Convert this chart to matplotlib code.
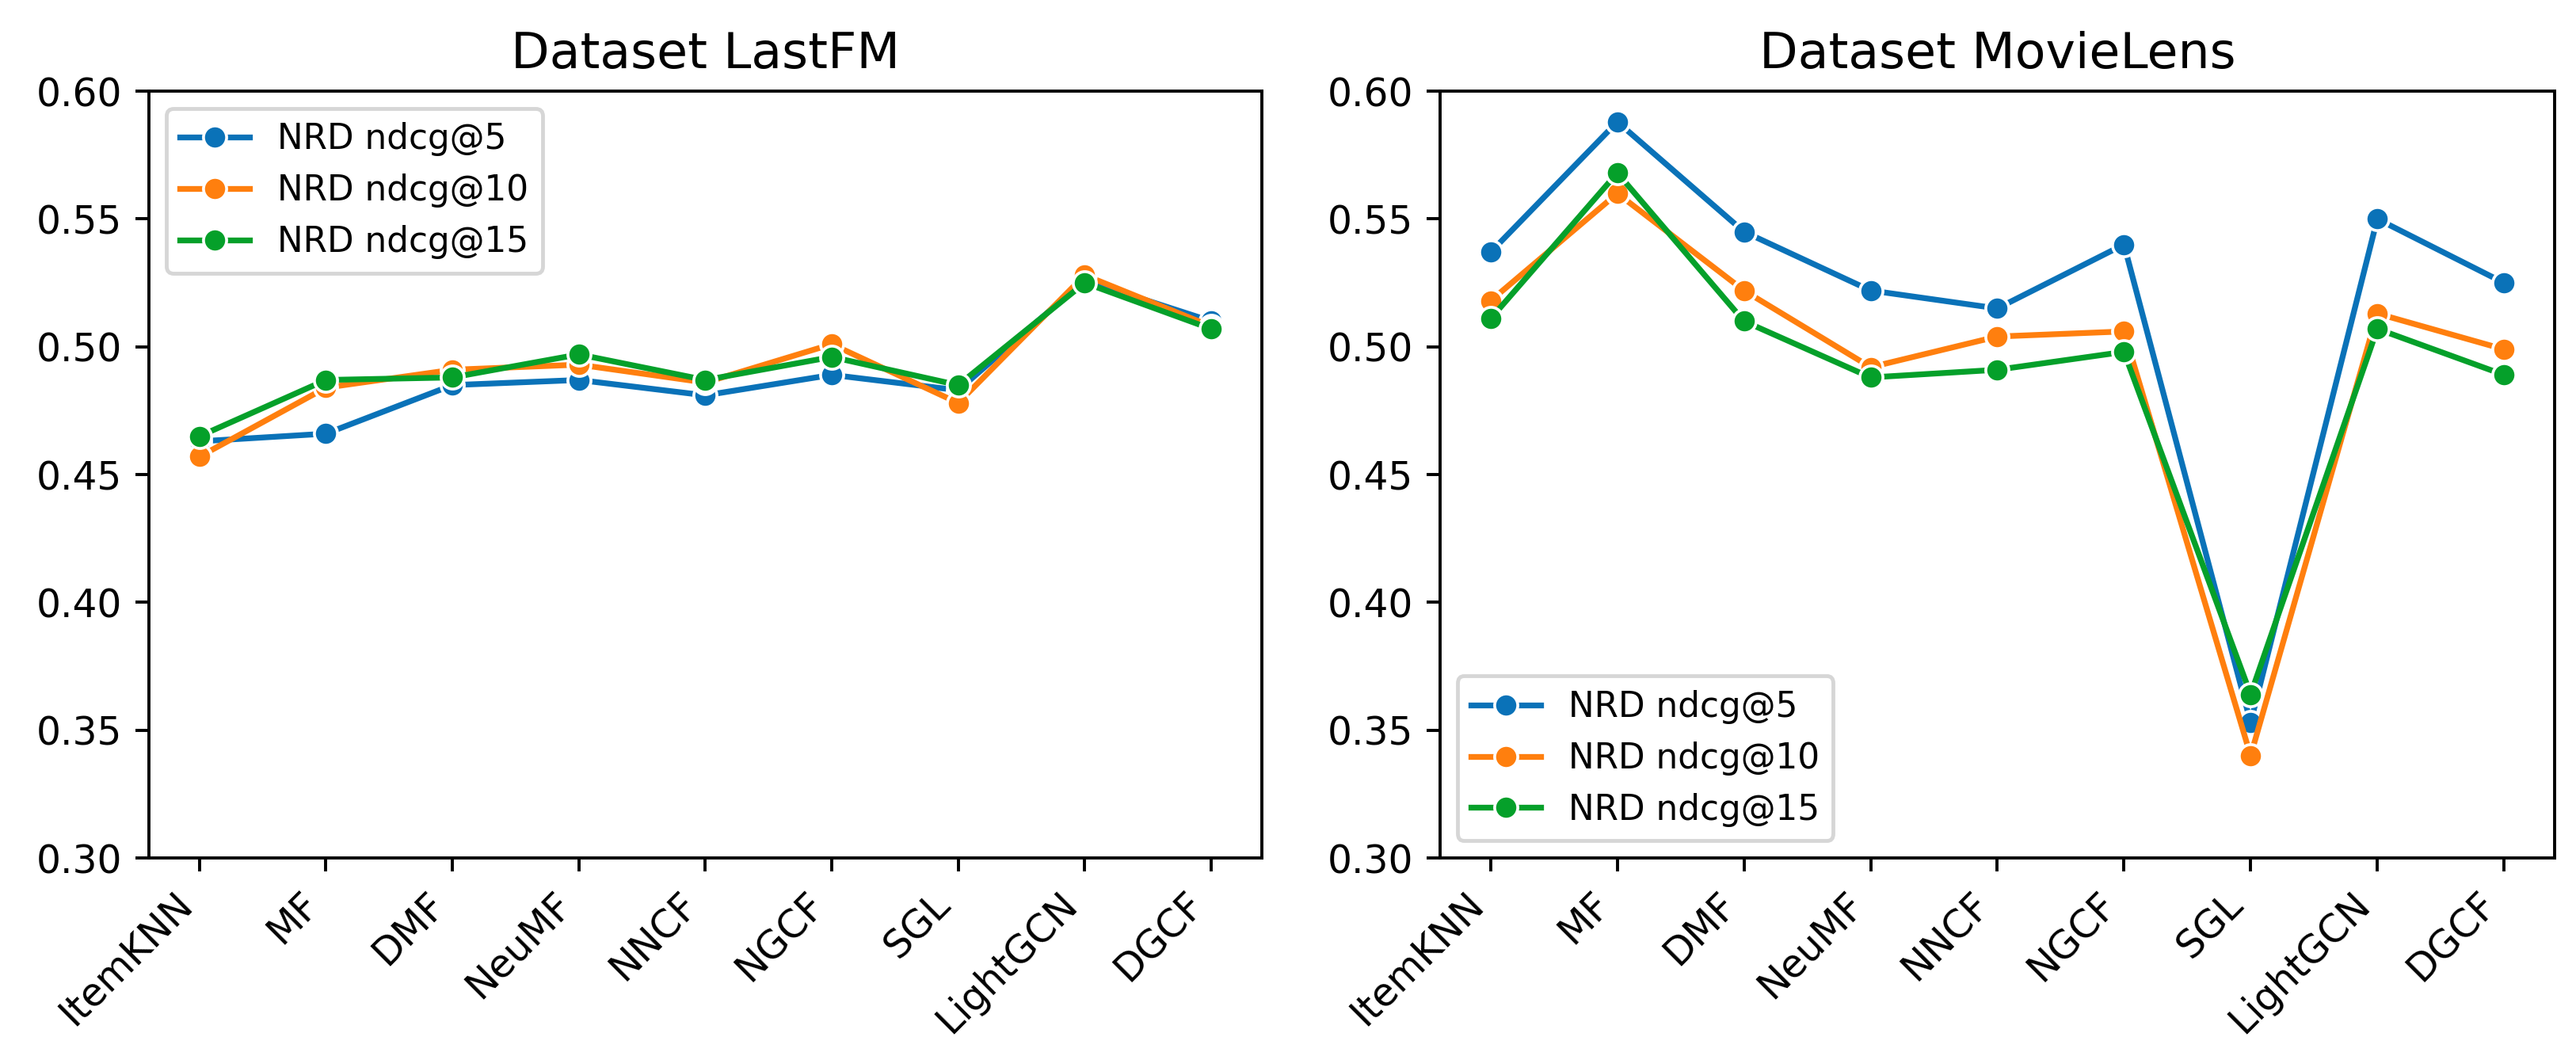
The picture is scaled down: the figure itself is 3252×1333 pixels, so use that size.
import matplotlib
matplotlib.use("Agg")
import matplotlib.pyplot as plt
import numpy as np

# ------------ Data ---------------
models = ["ItemKNN", "MF", "DMF", "NeuMF", "NNCF", "NGCF", "SGL", "LightGCN", "DGCF"]
series_names = ["NRD ndcg@5", "NRD ndcg@10", "NRD ndcg@15"]

lastfm_at5 = [0.463, 0.466, 0.485, 0.487, 0.481, 0.489, 0.483, 0.526, 0.510]
lastfm_at10 = [0.457, 0.484, 0.491, 0.493, 0.486, 0.501, 0.478, 0.528, 0.508]
lastfm_at15 = [0.465, 0.487, 0.488, 0.497, 0.487, 0.496, 0.485, 0.525, 0.507]

movielens_at5 = [0.537, 0.588, 0.545, 0.522, 0.515, 0.540, 0.353, 0.550, 0.525]
movielens_at10 = [0.518, 0.560, 0.522, 0.492, 0.504, 0.506, 0.340, 0.513, 0.499]
movielens_at15 = [0.511, 0.568, 0.510, 0.488, 0.491, 0.498, 0.364, 0.507, 0.489]

colors = ["#0a72b8", "#ff7f0e", "#05a02a"]

# ------------ Plot ---------------
fig = plt.figure(figsize=(3252 / 350, 1333 / 350), dpi=350)
ax1 = fig.add_axes([0.0578, 0.1875, 0.4320, 0.7262])
ax2 = fig.add_axes([0.5590, 0.1875, 0.4327, 0.7262])

panels = [
    (ax1, "Dataset LastFM", [lastfm_at5, lastfm_at10, lastfm_at15], "upper left"),
    (ax2, "Dataset MovieLens", [movielens_at5, movielens_at10, movielens_at15], "lower left"),
]

x = np.arange(len(models))
for ax, title, values, loc in panels:
    for name, vals, c in zip(series_names, values, colors):
        ax.plot(x, vals, marker="o", color=c, lw=1.5, ms=6,
                mec="white", mew=0.75, label=name)
    ax.set_title(title, fontsize=13)
    ax.set_ylim(0.30, 0.60)
    ax.set_yticks(np.arange(0.30, 0.601, 0.05))
    ax.yaxis.set_major_formatter(matplotlib.ticker.FormatStrFormatter("%.2f"))
    ax.set_xticks(x)
    ax.set_xticklabels(models, rotation=45, ha="right")
    ax.tick_params(labelsize=10)
    ax.legend(loc=loc, fontsize=9)

fig.savefig("out.png", dpi=350)
